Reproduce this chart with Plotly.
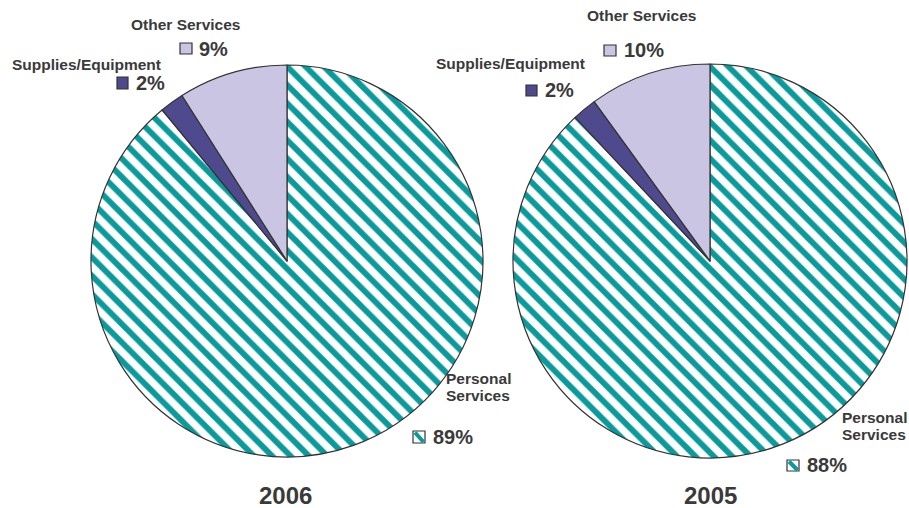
import plotly.graph_objects as go

W, H = 909, 508

# Spending breakdown per year, listed in the order the slices are drawn
# (clockwise from 12 o'clock)
categories = ["Personal Services", "Supplies/Equipment", "Other Services"]
years = ["2006", "2005"]
shares_2006 = [89, 2, 9]
shares_2005 = [88, 2, 10]

fill_colors = ["#FFFFFF", "#4F4A8D", "#C9C5E3"]
teal = "#0A9A9C"
text_color = "#3A3A3A"
font_family = "Liberation Sans, Arial, sans-serif"


def px_x(x):
    return x / W


def px_y(y):
    return 1 - y / H


fig = go.Figure()

pie_domains = [
    dict(x=[px_x(91), px_x(483)], y=[px_y(457), px_y(65)]),
    dict(x=[px_x(513), px_x(907)], y=[px_y(458), px_y(64)]),
]

for values, dom in zip([shares_2006, shares_2005], pie_domains):
    fig.add_trace(go.Pie(
        labels=categories,
        values=values,
        sort=False,
        direction="clockwise",
        rotation=0,
        domain=dom,
        textinfo="none",
        hoverinfo="label+percent",
        showlegend=False,
        marker=dict(
            colors=fill_colors,
            line=dict(color="#333333", width=1.2),
            pattern=dict(
                shape=["\\", "", ""],
                fgcolor=teal,
                bgcolor=fill_colors,
                fgopacity=1,
                size=13,
                solidity=0.45,
                fillmode="replace",
            ),
        ),
    ))

annotations = []
shapes = []


def text_at(text, x, y, size, anchor="center"):
    annotations.append(dict(
        text="<b>" + text + "</b>", x=px_x(x), y=px_y(y), xref="paper", yref="paper",
        showarrow=False, xanchor=anchor, yanchor="middle",
        font=dict(family=font_family, size=size, color=text_color),
    ))


def value_label(idx, value, box, tx, ty):
    # colour key square followed by the percentage
    x0, y0, x1, y1 = box
    shapes.append(dict(
        type="rect", xref="paper", yref="paper",
        x0=px_x(x0), x1=px_x(x1), y0=px_y(y1), y1=px_y(y0),
        fillcolor=fill_colors[idx], line=dict(color="#333333", width=1.2),
    ))
    if idx == 0:
        shapes.append(dict(
            type="line", xref="paper", yref="paper",
            x0=px_x(x0 + 2), y0=px_y(y0 + 1.5), x1=px_x(x1 - 1.5), y1=px_y(y1 - 1),
            line=dict(color=teal, width=4),
        ))
    text_at("%d%%" % value, tx - 1, ty, 20, anchor="left")


NAME_SIZE = 15.5

# 2006 labels
text_at(categories[2], 185, 24, NAME_SIZE)
value_label(2, shares_2006[2], (180, 43, 192, 54), 198, 49)
text_at(categories[1], 86.5, 64, NAME_SIZE)
value_label(1, shares_2006[1], (117, 77, 128, 89), 135, 83)
text_at("Personal", 478, 378, NAME_SIZE)
text_at("Services", 478, 395, NAME_SIZE)
value_label(0, shares_2006[0], (413, 431, 425, 443), 432, 437)

# 2005 labels
text_at(categories[2], 641, 16, NAME_SIZE)
value_label(2, shares_2005[2], (604, 45, 616, 56), 623, 50)
text_at(categories[1], 510, 63, NAME_SIZE)
value_label(1, shares_2005[1], (526, 85, 537, 96), 544, 90)
text_at("Personal", 874, 417, NAME_SIZE)
text_at("Services", 874, 434, NAME_SIZE)
value_label(0, shares_2005[0], (787, 460, 799, 471), 806, 465)

# year captions
for yr, cx in zip(years, [285.5, 710]):
    text_at(yr, cx, 495, 24)

fig.update_layout(
    width=W, height=H,
    margin=dict(l=0, r=0, t=0, b=0),
    paper_bgcolor="white", plot_bgcolor="white",
    annotations=annotations, shapes=shapes,
)

fig.write_html("out.html")
